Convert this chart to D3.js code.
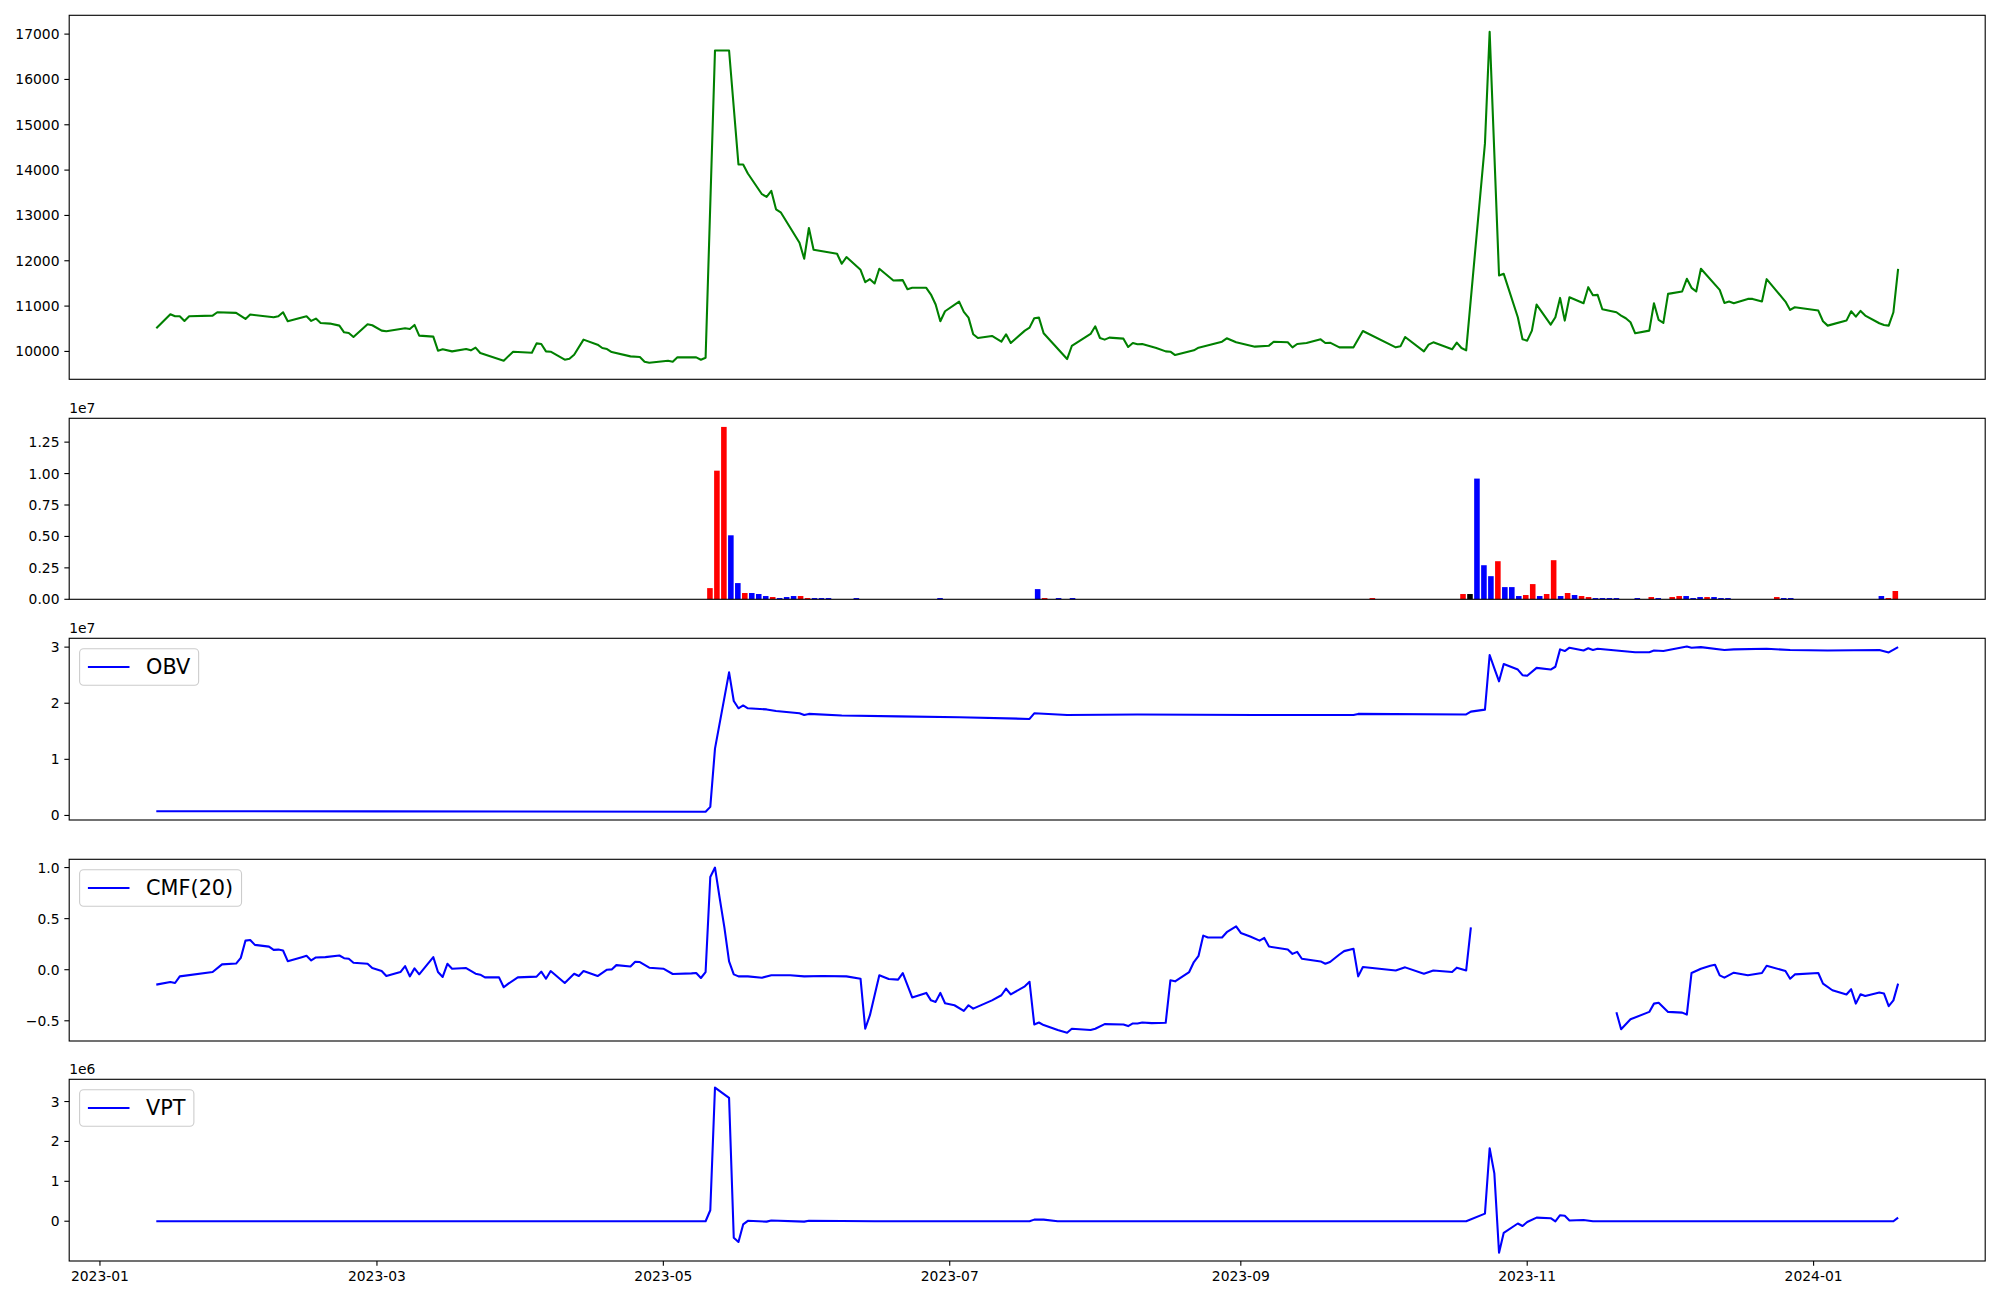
<!DOCTYPE html>
<html><head><meta charset="utf-8">
<script src="https://cdn.jsdelivr.net/npm/d3@7"></script>
<style>
body{margin:0;background:#fff}
svg{display:block}
text{font-family:"DejaVu Sans",sans-serif}
</style>
</head><body>
<svg id="chart" width="2000" height="1300"></svg>
<script>
// ---------------- DATA ----------------
const priceSeries = [
["2023-01-13",10510],["2023-01-16",10820],["2023-01-17",10776],["2023-01-18",10776],["2023-01-19",10673],["2023-01-20",10776],["2023-01-25",10790],["2023-01-26",10864],["2023-01-30",10850],["2023-02-01",10717],["2023-02-02",10813],["2023-02-07",10754],["2023-02-08",10776],["2023-02-09",10864],["2023-02-10",10665],["2023-02-14",10776],["2023-02-15",10673],["2023-02-16",10724],["2023-02-17",10628],["2023-02-19",10614],["2023-02-21",10569],["2023-02-22",10422],["2023-02-23",10407],["2023-02-24",10319],["2023-02-27",10599],["2023-02-28",10577],["2023-03-02",10459],["2023-03-03",10444],["2023-03-07",10510],["2023-03-08",10496],["2023-03-09",10584],["2023-03-10",10348],["2023-03-13",10326],["2023-03-14",10016],["2023-03-15",10046],["2023-03-17",10001],["2023-03-20",10053],["2023-03-21",10024],["2023-03-22",10083],["2023-03-23",9965],["2023-03-28",9795],["2023-03-30",9994],["2023-04-03",9972],["2023-04-04",10178],["2023-04-05",10164],["2023-04-06",10001],["2023-04-07",9994],["2023-04-10",9817],["2023-04-11",9839],["2023-04-12",9928],["2023-04-14",10260],["2023-04-17",10149],["2023-04-18",10075],["2023-04-19",10053],["2023-04-20",9987],["2023-04-24",9891],["2023-04-26",9876],["2023-04-27",9773],["2023-04-28",9750],["2023-05-02",9795],["2023-05-03",9773],["2023-05-04",9869],["2023-05-08",9869],["2023-05-09",9817],["2023-05-10",9861],["2023-05-12",16639],["2023-05-15",16639],["2023-05-17",14124],["2023-05-18",14124],["2023-05-19",13925],["2023-05-22",13468],["2023-05-23",13409],["2023-05-24",13541],["2023-05-25",13136],["2023-05-26",13069],["2023-05-30",12398],["2023-05-31",12044],["2023-06-01",12723],["2023-06-02",12243],["2023-06-07",12155],["2023-06-08",11934],["2023-06-09",12081],["2023-06-12",11801],["2023-06-13",11528],["2023-06-14",11594],["2023-06-15",11498],["2023-06-16",11823],["2023-06-19",11565],["2023-06-21",11572],["2023-06-22",11373],["2023-06-23",11403],["2023-06-26",11403],["2023-06-27",11255],["2023-06-28",11034],["2023-06-29",10665],["2023-06-30",10886],["2023-07-03",11100],["2023-07-04",10872],["2023-07-05",10746],["2023-07-06",10378],["2023-07-07",10296],["2023-07-10",10341],["2023-07-12",10215],["2023-07-13",10378],["2023-07-14",10186],["2023-07-17",10459],["2023-07-18",10525],["2023-07-19",10732],["2023-07-20",10746],["2023-07-21",10400],["2023-07-26",9832],["2023-07-27",10120],["2023-07-31",10385],["2023-08-01",10555],["2023-08-02",10296],["2023-08-03",10260],["2023-08-04",10304],["2023-08-07",10282],["2023-08-08",10097],["2023-08-09",10186],["2023-08-10",10157],["2023-08-11",10164],["2023-08-14",10075],["2023-08-16",10001],["2023-08-17",9994],["2023-08-18",9920],["2023-08-22",10024],["2023-08-23",10083],["2023-08-28",10215],["2023-08-29",10289],["2023-08-31",10201],["2023-09-04",10105],["2023-09-07",10127],["2023-09-08",10215],["2023-09-11",10201],["2023-09-12",10090],["2023-09-13",10164],["2023-09-15",10186],["2023-09-18",10267],["2023-09-19",10186],["2023-09-20",10193],["2023-09-22",10090],["2023-09-25",10090],["2023-09-27",10451],["2023-10-04",10090],["2023-10-05",10112],["2023-10-06",10319],["2023-10-10",10001],["2023-10-11",10149],["2023-10-12",10201],["2023-10-16",10046],["2023-10-17",10193],["2023-10-18",10075],["2023-10-19",10024],["2023-10-23",14589],["2023-10-24",17050],["2023-10-26",11676],["2023-10-27",11712],["2023-10-30",10754],["2023-10-31",10267],["2023-11-01",10238],["2023-11-02",10459],["2023-11-03",11034],["2023-11-06",10591],["2023-11-07",10754],["2023-11-08",11181],["2023-11-09",10680],["2023-11-10",11196],["2023-11-13",11063],["2023-11-14",11417],["2023-11-15",11240],["2023-11-16",11247],["2023-11-17",10931],["2023-11-20",10864],["2023-11-21",10791],["2023-11-22",10732],["2023-11-23",10643],["2023-11-24",10400],["2023-11-27",10459],["2023-11-28",11063],["2023-11-29",10695],["2023-11-30",10628],["2023-12-01",11269],["2023-12-04",11322],["2023-12-05",11602],["2023-12-06",11403],["2023-12-07",11322],["2023-12-08",11823],["2023-12-12",11358],["2023-12-13",11070],["2023-12-14",11100],["2023-12-15",11063],["2023-12-18",11159],["2023-12-19",11159],["2023-12-21",11100],["2023-12-22",11594],["2023-12-26",11100],["2023-12-27",10916],["2023-12-28",10975],["2024-01-02",10901],["2024-01-03",10665],["2024-01-04",10569],["2024-01-08",10680],["2024-01-09",10886],["2024-01-10",10768],["2024-01-11",10894],["2024-01-12",10791],["2024-01-15",10621],["2024-01-16",10584],["2024-01-17",10569],["2024-01-18",10864],["2024-01-19",11823]
];

// Volume: bars drawn by trading-day index (250 trading days)
const tradingDayCount = 250;
const volumeIndex = [79,80,81,82,83,84,85,86,87,88,89,90,91,92,93,94,95,96,100,112,126,127,129,131,174,187,188,189,190,191,192,193,194,195,196,197,198,199,200,201,202,203,204,205,206,207,208,209,212,214,215,217,218,219,220,221,222,223,224,225,232,233,234,247,248,249];
const volumeValues = [0.89,10.23,13.71,5.09,1.29,0.50,0.50,0.42,0.26,0.18,0.10,0.18,0.26,0.26,0.10,0.10,0.10,0.10,0.10,0.10,0.81,0.10,0.10,0.10,0.10,0.42,0.42,9.6,2.71,1.84,3.03,0.97,0.97,0.26,0.34,1.21,0.26,0.42,3.11,0.26,0.50,0.34,0.26,0.18,0.10,0.10,0.10,0.10,0.10,0.18,0.10,0.18,0.26,0.26,0.10,0.18,0.18,0.18,0.10,0.10,0.18,0.10,0.10,0.26,0.10,0.66].map(v => v * 1e6);
const volumeColors = ["red","red","red","blue","blue","red","blue","blue","blue","red","blue","blue","blue","red","red","blue","blue","blue","blue","blue","blue","red","blue","blue","red","red","black","blue","blue","blue","red","blue","blue","blue","red","red","blue","red","red","blue","red","blue","red","red","blue","blue","blue","blue","blue","red","blue","red","red","blue","blue","blue","red","blue","blue","blue","red","blue","blue","blue","red","red"];

// OBV (x 1e7)
const obvSeries = [
["2023-01-13",0.076],["2023-03-01",0.072],["2023-05-10",0.066],["2023-05-11",0.153],["2023-05-12",1.19],["2023-05-15",2.55],["2023-05-16",2.04],["2023-05-17",1.91],["2023-05-18",1.96],["2023-05-19",1.91],["2023-05-23",1.89],["2023-05-25",1.86],["2023-05-30",1.82],["2023-05-31",1.79],["2023-06-01",1.81],["2023-06-08",1.78],["2023-06-20",1.765],["2023-07-03",1.75],["2023-07-18",1.72],["2023-07-19",1.82],["2023-07-26",1.79],["2023-08-10",1.80],["2023-09-04",1.79],["2023-09-25",1.79],["2023-09-26",1.81],["2023-10-19",1.80],["2023-10-20",1.85],["2023-10-23",1.886],["2023-10-24",2.86],["2023-10-25",2.62],["2023-10-26",2.39],["2023-10-27",2.70],["2023-10-30",2.60],["2023-10-31",2.50],["2023-11-01",2.49],["2023-11-03",2.63],["2023-11-06",2.60],["2023-11-07",2.65],["2023-11-08",2.96],["2023-11-09",2.93],["2023-11-10",2.99],["2023-11-13",2.94],["2023-11-14",2.98],["2023-11-15",2.95],["2023-11-16",2.97],["2023-11-24",2.91],["2023-11-27",2.91],["2023-11-28",2.94],["2023-11-30",2.93],["2023-12-05",3.01],["2023-12-06",2.99],["2023-12-08",3.00],["2023-12-13",2.95],["2023-12-15",2.96],["2023-12-22",2.97],["2023-12-27",2.95],["2024-01-04",2.94],["2024-01-15",2.95],["2024-01-17",2.905],["2024-01-19",3.00]
];

// CMF(20)
const cmfSeries = [
["2023-01-13",-0.146],["2023-01-16",-0.12],["2023-01-17",-0.13],["2023-01-18",-0.065],["2023-01-25",-0.023],["2023-01-27",0.052],["2023-01-30",0.06],["2023-01-31",0.116],["2023-02-01",0.285],["2023-02-02",0.291],["2023-02-03",0.243],["2023-02-06",0.226],["2023-02-07",0.194],["2023-02-08",0.197],["2023-02-09",0.188],["2023-02-10",0.084],["2023-02-13",0.123],["2023-02-14",0.136],["2023-02-15",0.091],["2023-02-16",0.12],["2023-02-18",0.123],["2023-02-21",0.139],["2023-02-22",0.113],["2023-02-23",0.107],["2023-02-24",0.068],["2023-02-27",0.058],["2023-02-28",0.016],["2023-03-02",-0.013],["2023-03-03",-0.062],["2023-03-06",-0.023],["2023-03-07",0.035],["2023-03-08",-0.065],["2023-03-09",0.013],["2023-03-10",-0.045],["2023-03-13",0.123],["2023-03-14",-0.023],["2023-03-15",-0.071],["2023-03-16",0.058],["2023-03-17",0.01],["2023-03-20",0.016],["2023-03-22",-0.039],["2023-03-23",-0.049],["2023-03-24",-0.075],["2023-03-27",-0.075],["2023-03-28",-0.172],["2023-03-29",-0.136],["2023-03-31",-0.075],["2023-04-04",-0.068],["2023-04-05",-0.019],["2023-04-06",-0.088],["2023-04-07",-0.013],["2023-04-10",-0.13],["2023-04-12",-0.039],["2023-04-13",-0.062],["2023-04-14",-0.013],["2023-04-17",-0.062],["2023-04-19",0.0],["2023-04-20",0.003],["2023-04-21",0.045],["2023-04-24",0.032],["2023-04-25",0.078],["2023-04-26",0.075],["2023-04-28",0.02],["2023-05-01",0.01],["2023-05-03",-0.042],["2023-05-07",-0.036],["2023-05-08",-0.032],["2023-05-09",-0.081],["2023-05-10",-0.023],["2023-05-11",0.908],["2023-05-12",1.0],["2023-05-13",0.70],["2023-05-14",0.415],["2023-05-15",0.081],["2023-05-16",-0.046],["2023-05-17",-0.065],["2023-05-19",-0.065],["2023-05-22",-0.078],["2023-05-24",-0.055],["2023-05-28",-0.055],["2023-05-31",-0.065],["2023-06-04",-0.062],["2023-06-09",-0.065],["2023-06-12",-0.088],["2023-06-13",-0.578],["2023-06-14",-0.445],["2023-06-16",-0.055],["2023-06-18",-0.091],["2023-06-20",-0.097],["2023-06-21",-0.033],["2023-06-23",-0.272],["2023-06-26",-0.227],["2023-06-27",-0.30],["2023-06-28",-0.315],["2023-06-29",-0.227],["2023-06-30",-0.328],["2023-07-02",-0.348],["2023-07-04",-0.403],["2023-07-05",-0.348],["2023-07-06",-0.381],["2023-07-10",-0.30],["2023-07-12",-0.25],["2023-07-13",-0.186],["2023-07-14",-0.241],["2023-07-17",-0.163],["2023-07-18",-0.118],["2023-07-19",-0.536],["2023-07-20",-0.517],["2023-07-21",-0.542],["2023-07-24",-0.591],["2023-07-26",-0.617],["2023-07-27",-0.578],["2023-07-31",-0.591],["2023-08-01",-0.578],["2023-08-03",-0.533],["2023-08-07",-0.536],["2023-08-08",-0.552],["2023-08-09",-0.526],["2023-08-10",-0.526],["2023-08-11",-0.517],["2023-08-13",-0.523],["2023-08-16",-0.52],["2023-08-17",-0.104],["2023-08-18",-0.114],["2023-08-21",-0.023],["2023-08-22",0.075],["2023-08-23",0.136],["2023-08-24",0.334],["2023-08-25",0.315],["2023-08-28",0.315],["2023-08-29",0.367],["2023-08-31",0.425],["2023-09-01",0.36],["2023-09-03",0.325],["2023-09-05",0.285],["2023-09-06",0.311],["2023-09-07",0.227],["2023-09-11",0.198],["2023-09-12",0.155],["2023-09-13",0.175],["2023-09-14",0.107],["2023-09-18",0.081],["2023-09-19",0.058],["2023-09-20",0.075],["2023-09-22",0.149],["2023-09-23",0.182],["2023-09-25",0.205],["2023-09-26",-0.065],["2023-09-27",0.026],["2023-10-04",-0.007],["2023-10-06",0.023],["2023-10-10",-0.039],["2023-10-12",-0.007],["2023-10-16",-0.023],["2023-10-17",0.02],["2023-10-19",-0.007],["2023-10-20",0.415],["2023-10-23",null],["2023-11-17",null],["2023-11-20",-0.416],["2023-11-21",-0.582],["2023-11-23",-0.485],["2023-11-27",-0.413],["2023-11-28",-0.332],["2023-11-29",-0.323],["2023-12-01",-0.413],["2023-12-04",-0.42],["2023-12-05",-0.439],["2023-12-06",-0.032],["2023-12-08",0.01],["2023-12-10",0.039],["2023-12-11",0.049],["2023-12-12",-0.055],["2023-12-13",-0.078],["2023-12-15",-0.029],["2023-12-18",-0.055],["2023-12-21",-0.032],["2023-12-22",0.039],["2023-12-26",-0.013],["2023-12-27",-0.088],["2023-12-28",-0.046],["2024-01-02",-0.032],["2024-01-03",-0.136],["2024-01-05",-0.201],["2024-01-08",-0.243],["2024-01-09",-0.191],["2024-01-10",-0.332],["2024-01-11",-0.24],["2024-01-12",-0.258],["2024-01-15",-0.223],["2024-01-16",-0.233],["2024-01-17",-0.357],["2024-01-18",-0.30],["2024-01-19",-0.136]
];

// VPT (x 1e6)
const vptSeries = [
["2023-01-13",0],["2023-05-10",0],["2023-05-11",0.275],["2023-05-12",3.35],["2023-05-15",3.09],["2023-05-16",-0.415],["2023-05-17",-0.52],["2023-05-18",-0.08],["2023-05-19",0.01],["2023-05-23",-0.01],["2023-05-24",0.02],["2023-05-31",-0.01],["2023-06-01",0.01],["2023-06-15",0.0],["2023-07-18",0.0],["2023-07-19",0.04],["2023-07-21",0.04],["2023-07-24",0.0],["2023-10-19",0.0],["2023-10-23",0.19],["2023-10-24",1.83],["2023-10-25",1.2],["2023-10-26",-0.79],["2023-10-27",-0.29],["2023-10-30",-0.057],["2023-10-31",-0.12],["2023-11-01",-0.02],["2023-11-03",0.09],["2023-11-06",0.075],["2023-11-07",-0.005],["2023-11-08",0.15],["2023-11-09",0.135],["2023-11-10",0.017],["2023-11-13",0.03],["2023-11-15",0.0],["2024-01-18",0.0],["2024-01-19",0.09]
];

const xTickLabels = ["2023-01","2023-03","2023-05","2023-07","2023-09","2023-11","2024-01"];
const priceTicks = [10000,11000,12000,13000,14000,15000,16000,17000];
const volumeTicks = [0,0.25,0.5,0.75,1.0,1.25];   // x 1e7
const obvTicks = [0,1,2,3];                        // x 1e7
const cmfTicks = [-0.5,0,0.5,1.0];
const vptTicks = [0,1,2,3];                        // x 1e6
const legendLabels = {obv:"OBV", cmf:"CMF(20)", vpt:"VPT"};

// ---------------- LAYOUT ----------------
const svg = d3.select("#chart");
const L = 69.2, R = 1985.2;
const P = {
  price:[15.3,379.3], vol:[418.3,599.3], obv:[638.3,820], cmf:[859.3,1041], vpt:[1079.3,1261]
};
const FS = 13.89, LW = 1.11, TL = 4.86, TP = 4.86, LINEW = 2.08;
const parse = d3.utcParse("%Y-%m-%d");
const minus = s => s.replace("-", "\u2212");

// shared date scale (5% margins like matplotlib)
const allDates = priceSeries.map(d => parse(d[0]));
const t0 = d3.min(allDates), t1 = d3.max(allDates);
const tpad = (t1 - t0) * 0.05;
const x = d3.scaleUtc().domain([new Date(+t0 - tpad), new Date(+t1 + tpad)]).range([L, R]);

function padDomain(vals){
  const lo = d3.min(vals), hi = d3.max(vals), p = (hi - lo) * 0.05;
  return [lo - p, hi + p];
}

function yAxis(y, top, ticks, fmt){
  const g = svg.append("g").attr("transform", `translate(${L},0)`);
  ticks.forEach(t => {
    const yy = y(t);
    g.append("line").attr("x1", -TL).attr("x2", 0).attr("y1", yy).attr("y2", yy)
      .attr("stroke", "#000").attr("stroke-width", LW);
    g.append("text").attr("x", -TL - TP).attr("y", yy).attr("dy", "0.36em")
      .attr("text-anchor", "end").attr("font-size", FS).attr("fill", "#000").text(fmt(t));
  });
}
function frame(top, bottom){
  svg.append("rect").attr("x", L).attr("y", top).attr("width", R - L).attr("height", bottom - top)
    .attr("fill", "none").attr("stroke", "#000").attr("stroke-width", LW);
}
function offsetText(top, txt){
  svg.append("text").attr("x", L).attr("y", top - 5).attr("font-size", FS).attr("fill", "#000").text(txt);
}
function legend(top, label){
  const fs = 20.8;
  const g = svg.append("g");
  const bx = L + 10.4, by = top + 10.4, h = 36.5;
  const rect = g.append("rect").attr("x", bx).attr("y", by).attr("height", h).attr("rx", 4)
    .attr("fill", "#fff").attr("fill-opacity", 0.8).attr("stroke", "#cccccc").attr("stroke-width", 1.1);
  const cy = by + h / 2;
  g.append("line").attr("x1", bx + 8.3).attr("x2", bx + 8.3 + 41.6).attr("y1", cy).attr("y2", cy)
    .attr("stroke", "blue").attr("stroke-width", LINEW);
  const t = g.append("text").attr("x", bx + 8.3 + 41.6 + 16.6).attr("y", cy).attr("dy", "0.36em")
    .attr("font-size", fs).attr("fill", "#000").text(label);
  const tw = t.node().getComputedTextLength();
  rect.attr("width", 8.3 + 41.6 + 16.6 + tw + 8.3);
}
function drawLine(series, y, color){
  const line = d3.line().defined(d => d[1] !== null)
    .x(d => x(parse(d[0]))).y(d => y(d[1]));
  svg.append("path").datum(series).attr("d", line).attr("fill", "none")
    .attr("stroke", color).attr("stroke-width", LINEW).attr("stroke-linejoin", "round");
}

// ---- Panel 1: price ----
{
  const [top, bot] = P.price;
  const y = d3.scaleLinear().domain(padDomain(priceSeries.map(d => d[1]))).range([bot, top]);
  drawLine(priceSeries, y, "green");
  yAxis(y, top, priceTicks, d => String(d));
  frame(top, bot);
}

// ---- Panel 2: volume bars (trading-day index axis) ----
{
  const [top, bot] = P.vol;
  const n = tradingDayCount;
  const span = (n - 1 + 0.8);
  const xi = d3.scaleLinear().domain([-0.4 - 0.05 * span, n - 1 + 0.4 + 0.05 * span]).range([L, R]);
  const y = d3.scaleLinear().domain([0, d3.max(volumeValues) * 1.05]).range([bot, top]);
  const bw = xi(0.8) - xi(0);
  svg.append("g").selectAll("rect").data(volumeIndex).join("rect")
    .attr("x", (d) => xi(d - 0.4)).attr("width", bw)
    .attr("y", (d, i) => y(volumeValues[i])).attr("height", (d, i) => bot - y(volumeValues[i]))
    .attr("fill", (d, i) => volumeColors[i]);
  yAxis(y, top, volumeTicks.map(v => v * 1e7), d => (d / 1e7).toFixed(2));
  offsetText(top, "1e7");
  frame(top, bot);
}

// ---- Panel 3: OBV ----
{
  const [top, bot] = P.obv;
  const vals = obvSeries.map(d => [d[0], d[1] * 1e7]);
  const y = d3.scaleLinear().domain(padDomain(vals.map(d => d[1]))).range([bot, top]);
  drawLine(vals, y, "blue");
  yAxis(y, top, obvTicks.map(v => v * 1e7), d => String(Math.round(d / 1e7)));
  offsetText(top, "1e7");
  legend(top, legendLabels.obv);
  frame(top, bot);
}

// ---- Panel 4: CMF ----
{
  const [top, bot] = P.cmf;
  const y = d3.scaleLinear().domain(padDomain(cmfSeries.filter(d => d[1] !== null).map(d => d[1]))).range([bot, top]);
  drawLine(cmfSeries, y, "blue");
  yAxis(y, top, cmfTicks, d => minus(d.toFixed(1)));
  legend(top, legendLabels.cmf);
  frame(top, bot);
}

// ---- Panel 5: VPT ----
{
  const [top, bot] = P.vpt;
  const vals = vptSeries.map(d => [d[0], d[1] * 1e6]);
  const y = d3.scaleLinear().domain(padDomain(vals.map(d => d[1]))).range([bot, top]);
  drawLine(vals, y, "blue");
  yAxis(y, top, vptTicks.map(v => v * 1e6), d => String(Math.round(d / 1e6)));
  offsetText(top, "1e6");
  legend(top, legendLabels.vpt);
  frame(top, bot);
  // x axis
  const g = svg.append("g");
  const fmt = d3.utcFormat("%Y-%m");
  xTickLabels.forEach(lbl => {
    const t = d3.utcParse("%Y-%m")(lbl);
    const xx = x(t);
    g.append("line").attr("x1", xx).attr("x2", xx).attr("y1", bot).attr("y2", bot + TL)
      .attr("stroke", "#000").attr("stroke-width", LW);
    g.append("text").attr("x", xx).attr("y", bot + TL + TP).attr("dy", "0.76em")
      .attr("text-anchor", "middle").attr("font-size", FS).attr("fill", "#000").text(fmt(t));
  });
}
</script>
</body></html>
